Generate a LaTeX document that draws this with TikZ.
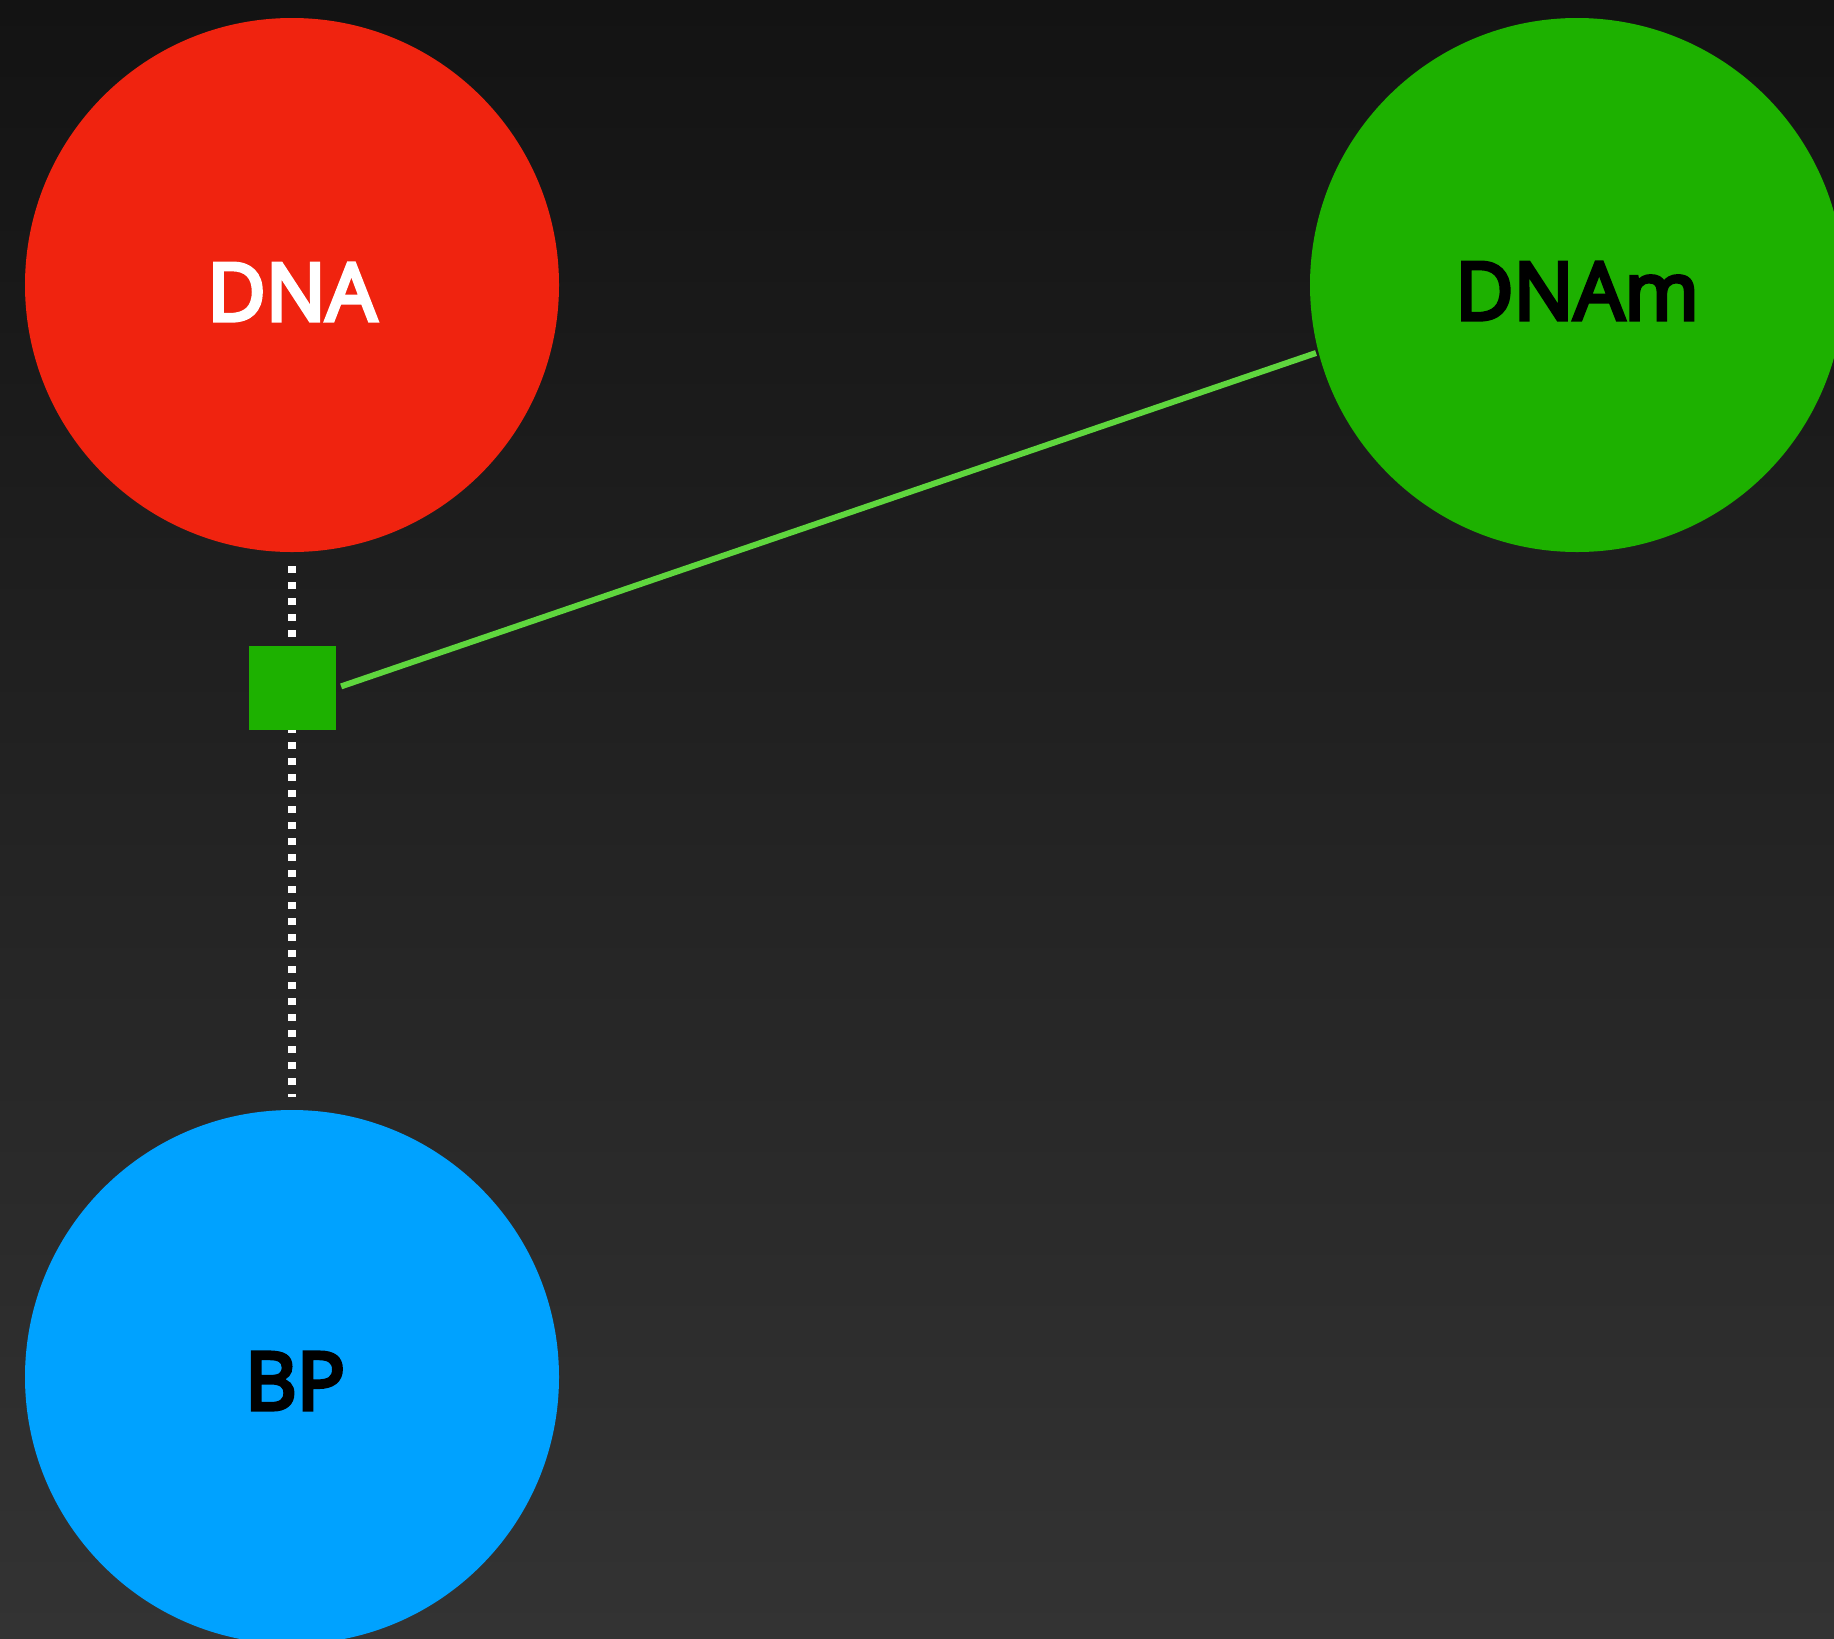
\documentclass[tikz,border=0pt]{standalone}
\usepackage{fontspec}
\setmainfont{Open Sans}[BoldFont={Open Sans}, BoldFeatures={FakeBold=5}]
\usepackage{tikz}
\usetikzlibrary{positioning,calc}

\definecolor{bgtop}{RGB}{19,19,19}
\definecolor{bgbot}{RGB}{51,51,51}
\definecolor{dnared}{RGB}{240,35,15}
\definecolor{dnamgreen}{RGB}{29,177,0}
\definecolor{bpblue}{RGB}{0,162,255}
\definecolor{linkgreen}{RGB}{95,214,62}

\tikzset{
    species/.style={circle, minimum size=267pt, inner sep=0pt},
    label text/.style={font=\fontsize{40}{40}\bfseries},
    reaction/.style={rectangle, fill=dnamgreen, minimum width=43.5pt, minimum height=42pt, inner sep=0pt},
    modifier/.style={white, line width=4pt, dash pattern=on 3.5pt off 4.5pt, shorten <=7pt, shorten >=6.5pt},
    product/.style={linkgreen, line width=3pt}
}

\begin{document}
\begin{tikzpicture}[x=0.5pt, y=-0.5pt]
    \clip (0,0) rectangle (1834,1638);
    \shade[top color=bgtop, bottom color=bgbot] (0,0) rectangle (1834,1638);

    % species
    \node[species, fill=dnared] (dna) at (292,285) {};
    \node[species, fill=dnamgreen] (dnam) at (1577,285) {};
    \node[species, fill=bpblue] (bp) at (292,1377) {};
    \node[label text, text=white] (dnalabel) at (292,292) {DNA};
    \node[label text, text=black] (dnamlabel) at (1577,291) {DNAm};
    \node[label text, text=black] (bplabel) at (295,1381) {BP};

    % modifier link behind the reaction
    \draw[modifier] (dna) -- (bp);

    % reaction
    \node[reaction] (rx) at (292.5,688) {};
    \coordinate (dnamport) at (1316,353);
    \draw[product, shorten <=2.5pt] (rx.east) -- (dnamport);
\end{tikzpicture}
\end{document}
